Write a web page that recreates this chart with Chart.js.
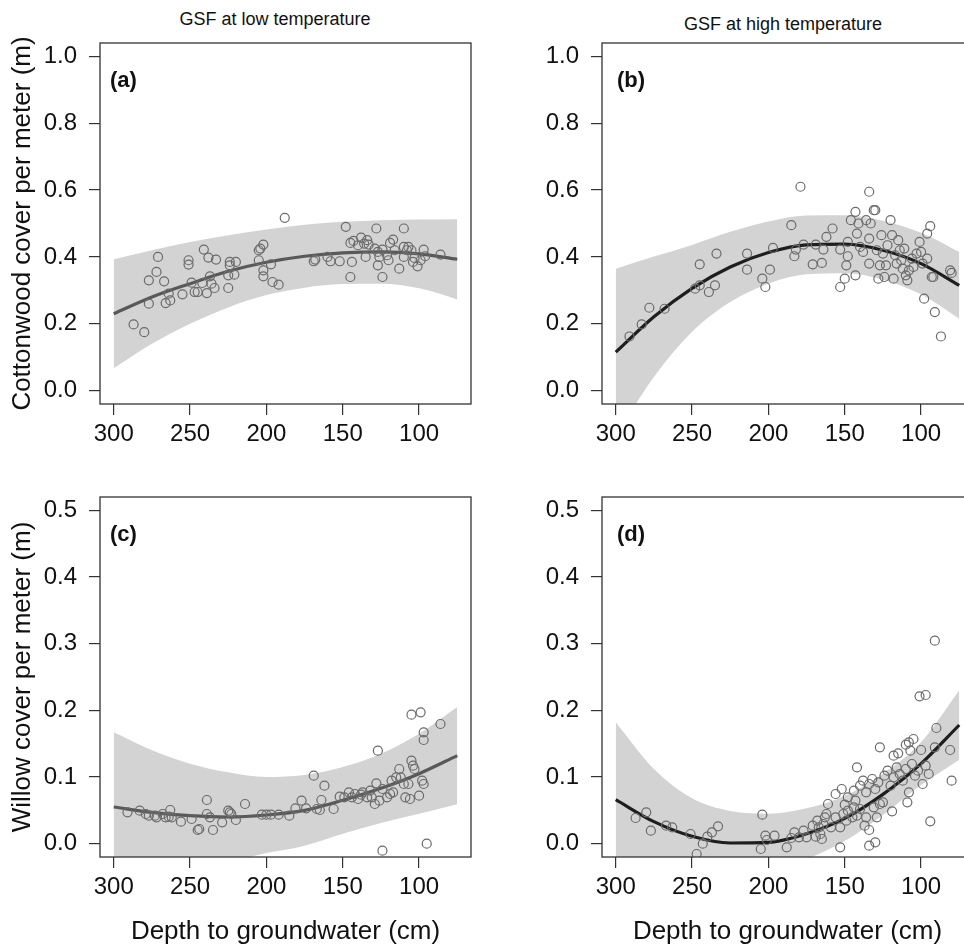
<!DOCTYPE html>
<html>
<head>
<meta charset="utf-8">
<script src="https://cdn.jsdelivr.net/npm/chart.js@4.4.0/dist/chart.umd.min.js"></script>
<style>
  body { margin: 0; background: #fff; }
  #page { position: relative; width: 964px; height: 944px; overflow: hidden; font-family: "Liberation Sans", Arial, sans-serif; }
  canvas { position: absolute; }
  .title { position: absolute; font-size: 18px; color: #111; transform: translate(-50%, -50%); white-space: nowrap; }
</style>
</head>
<body>
<div id="page">
  <div class="title" style="left:275px; top:19px">GSF at low temperature</div>
  <div class="title" style="left:783px; top:24px">GSF at high temperature</div>
  <canvas id="pa" width="480" height="470" style="left:0; top:0"></canvas>
  <canvas id="pb" width="480" height="470" style="left:502px; top:0"></canvas>
  <canvas id="pc" width="480" height="504" style="left:0; top:440px"></canvas>
  <canvas id="pd" width="480" height="504" style="left:502px; top:440px"></canvas>
</div>
<script>
// tick labels
var depthTicks = [300, 250, 200, 150, 100];
var cottonTicks = [0, 0.2, 0.4, 0.6, 0.8, 1.0];
var willowTicks = [0, 0.1, 0.2, 0.3, 0.4, 0.5];

// depths where the fitted curve and its band were read
var fitDepth = [300, 275, 250, 225, 200, 175, 150, 125, 100, 75];

// (a) cottonwood, low temperature
var aDepth = [287, 280, 277, 277, 272, 271, 267, 266, 264, 263, 255, 251, 251, 249, 247, 245, 241, 242, 239, 238,
  237, 236, 234, 233, 225, 225, 224, 224, 220, 221, 205, 204, 202, 205, 202, 202, 197, 196, 192, 188,
  169, 168, 160, 158, 152, 148, 145, 144, 145, 143, 140, 138, 136, 135, 134, 133, 128, 129, 127, 127,
  126, 124, 124, 121, 120, 119, 117, 116, 113, 110, 110, 110, 108, 107, 105, 104, 103, 101, 99, 97, 96, 86];
var aCover = [0.198, 0.175, 0.33, 0.26, 0.355, 0.40, 0.327, 0.262, 0.29, 0.27, 0.288, 0.39, 0.377, 0.323, 0.295, 0.295, 0.422, 0.322, 0.292, 0.398,
  0.342, 0.32, 0.307, 0.392, 0.307, 0.345, 0.385, 0.375, 0.385, 0.347, 0.42, 0.425, 0.437, 0.39, 0.36, 0.342, 0.378, 0.325, 0.317, 0.517,
  0.387, 0.392, 0.40, 0.387, 0.387, 0.49, 0.34, 0.385, 0.442, 0.448, 0.435, 0.458, 0.44, 0.40, 0.45, 0.437, 0.485, 0.425, 0.375, 0.415,
  0.40, 0.34, 0.422, 0.405, 0.39, 0.442, 0.452, 0.42, 0.365, 0.485, 0.43, 0.40, 0.42, 0.43, 0.42, 0.385, 0.397, 0.372, 0.39, 0.422, 0.402, 0.407];
var aFit = [0.23, 0.28, 0.32, 0.357, 0.384, 0.402, 0.412, 0.415, 0.409, 0.393];
var aLow = [0.067, 0.14, 0.20, 0.249, 0.286, 0.308, 0.319, 0.32, 0.306, 0.273];
var aHigh = [0.393, 0.42, 0.445, 0.465, 0.482, 0.496, 0.505, 0.51, 0.512, 0.513];

// (b) cottonwood, high temperature
var bDepth = [291, 283, 278, 268, 248, 245, 245, 239, 235, 234, 214, 214, 204, 202, 199, 197, 185, 183, 182, 179,
  177, 171, 169, 165, 164, 162, 158, 153, 153, 150, 149, 148, 148, 146, 143, 143, 142, 141, 140, 138,
  136, 134, 134, 134, 133, 131, 130, 129, 128, 127, 126, 125, 124, 123, 122, 120, 119, 118, 117, 116,
  115, 114, 113, 112, 111, 110, 109, 108, 106, 105, 103, 101, 100, 99, 98, 96, 96, 94, 93, 92, 91, 87, 81, 80];
var bCover = [0.162, 0.198, 0.248, 0.245, 0.305, 0.315, 0.378, 0.295, 0.315, 0.41, 0.41, 0.362, 0.335, 0.31, 0.362, 0.427, 0.495, 0.402, 0.422, 0.61,
  0.437, 0.378, 0.437, 0.382, 0.422, 0.46, 0.485, 0.422, 0.31, 0.335, 0.375, 0.402, 0.445, 0.51, 0.535, 0.345, 0.47, 0.50, 0.43, 0.415,
  0.51, 0.595, 0.455, 0.38, 0.50, 0.54, 0.54, 0.42, 0.335, 0.375, 0.465, 0.41, 0.34, 0.375, 0.435, 0.51, 0.465, 0.335, 0.405, 0.38,
  0.45, 0.42, 0.39, 0.365, 0.425, 0.345, 0.33, 0.36, 0.395, 0.37, 0.41, 0.445, 0.415, 0.38, 0.275, 0.47, 0.395, 0.492, 0.34, 0.34, 0.235, 0.162, 0.36, 0.352];
var bFit = [0.115, 0.221, 0.306, 0.370, 0.413, 0.436, 0.438, 0.42, 0.38, 0.315];
var bLow = [-0.135, 0.041, 0.176, 0.265, 0.32, 0.348, 0.351, 0.332, 0.288, 0.215];
var bHigh = [0.365, 0.401, 0.436, 0.475, 0.506, 0.524, 0.525, 0.508, 0.472, 0.415];

// (c) willow, low temperature
var cDepth = [291, 283, 279, 277, 273, 272, 268, 266, 264, 263, 262, 256, 249, 245, 244, 239, 239, 237, 235, 229,
  225, 224, 223, 220, 214, 203, 200, 197, 192, 185, 181, 177, 174, 169, 167, 165, 164, 162, 156, 152,
  149, 146, 144, 142, 140, 138, 137, 134, 132, 131, 129, 128, 127, 126, 124, 124, 121, 119, 118, 117,
  115, 113, 112, 110, 109, 107, 106, 105, 105, 104, 103, 100, 99, 98, 97, 97, 97, 95, 86];
var cCover = [0.047, 0.0495, 0.0445, 0.042, 0.042, 0.0395, 0.0445, 0.0395, 0.0405, 0.0505, 0.0395, 0.033, 0.037, 0.0205, 0.022, 0.0655, 0.0445, 0.0395, 0.0205, 0.032,
  0.0495, 0.047, 0.0445, 0.0355, 0.0595, 0.0435, 0.0435, 0.0435, 0.0435, 0.042, 0.053, 0.0645, 0.053, 0.102, 0.052, 0.0505, 0.0655, 0.087, 0.052, 0.0705,
  0.0695, 0.077, 0.0695, 0.0745, 0.067, 0.0735, 0.077, 0.0695, 0.0795, 0.0695, 0.0595, 0.0905, 0.1395, 0.0645, -0.0105, 0.082, 0.0695, 0.0745, 0.0945, 0.077,
  0.0995, 0.112, 0.0995, 0.0895, 0.0695, 0.0895, 0.067, 0.1245, 0.1935, 0.117, 0.112, 0.072, 0.197, 0.0945, 0.0895, 0.167, 0.1555, 0.0, 0.1795];
var cFit = [0.055, 0.047, 0.042, 0.040, 0.043, 0.050, 0.065, 0.083, 0.105, 0.132];
var cLow = [-0.057, -0.046, -0.036, -0.027, -0.014, -0.003, 0.015, 0.031, 0.045, 0.059];
var cHigh = [0.167, 0.14, 0.12, 0.107, 0.10, 0.103, 0.115, 0.135, 0.165, 0.205];

// (d) willow, high temperature
var dDepth = [287, 280, 277, 267, 263, 251, 247, 243, 240, 237, 233, 204, 205, 202, 201, 196, 188, 185, 183, 180,
  177, 175, 171, 169, 168, 167, 166, 165, 164, 163, 162, 161, 159, 156, 156, 153, 153, 152, 151, 150,
  149, 148, 148, 145, 144, 144, 143, 142, 142, 140, 140, 138, 137, 136, 136, 134, 134, 134, 132, 131,
  130, 130, 129, 128, 127, 127, 125, 124, 122, 120, 119, 118, 118, 116, 115, 114, 112, 110, 110, 109,
  108, 108, 107, 106, 105, 104, 102, 101, 100, 99, 97, 97, 95, 94, 91, 91, 90, 81, 80];
var dCover = [0.0385, 0.047, 0.0195, 0.027, 0.0245, 0.0145, -0.0155, 0.0, 0.0105, 0.017, 0.026, 0.0435, -0.008, 0.012, 0.0055, 0.012, -0.0055, 0.0085, 0.017, 0.0095,
  0.0195, 0.0095, 0.027, 0.0105, 0.0345, 0.0245, 0.0145, 0.007, 0.0295, 0.0395, 0.0445, 0.0595, 0.0245, 0.0395, 0.0745, 0.0245, -0.0055, 0.082, 0.0445, 0.0585,
  0.0345, 0.0695, 0.0495, 0.0395, 0.0545, 0.0795, 0.0645, 0.042, 0.1145, 0.052, 0.087, 0.0945, 0.027, 0.0395, 0.077, 0.0205, -0.003, 0.0895, 0.097, 0.0545,
  0.002, 0.082, 0.0395, 0.092, 0.0595, 0.1445, 0.062, 0.102, 0.1095, 0.087, 0.0485, 0.132, 0.0995, 0.1145, 0.1355, 0.1045, 0.0945, 0.1485, 0.112, 0.062,
  0.152, 0.077, 0.1395, 0.1195, 0.157, 0.102, 0.1095, 0.221, 0.1405, 0.0895, 0.223, 0.117, 0.1045, 0.0335, 0.3045, 0.1445, 0.1735, 0.1405, 0.0945];
var dFit = [0.066, 0.033, 0.011, 0.001, 0.002, 0.015, 0.038, 0.074, 0.12, 0.178];
var dLow = [-0.05, -0.046, -0.046, -0.046, -0.041, -0.023, 0.004, 0.043, 0.088, 0.126];
var dHigh = [0.182, 0.112, 0.068, 0.049, 0.045, 0.053, 0.072, 0.105, 0.152, 0.23];

var FONT = '"Liberation Sans", Arial, sans-serif';
Chart.defaults.font.family = FONT;

// box round the plot area and the panel letter
var panelFrame = {
  id: 'panelFrame',
  afterDraw: function (chart, args, opts) {
    var ctx = chart.ctx, a = chart.chartArea;
    ctx.save();
    ctx.strokeStyle = '#333';
    ctx.lineWidth = 1.3;
    ctx.strokeRect(a.left, a.top, a.right - a.left, a.bottom - a.top);
    ctx.font = 'bold 22px ' + FONT;
    ctx.fillStyle = '#111';
    ctx.textBaseline = 'middle';
    ctx.fillText(opts.label, a.left + opts.dx, a.top + 38);
    ctx.restore();
  }
};

function pairs(xs, ys) {
  return xs.map(function (x, i) { return { x: x, y: ys[i] }; });
}

function panel(id, p) {
  var bottom = p.xTitle ? true : false;
  new Chart(document.getElementById(id), {
    type: 'scatter',
    data: {
      datasets: [
        { data: pairs(p.depth, p.cover), order: 0, pointRadius: 4.5, pointBorderWidth: 1.2,
          pointBorderColor: '#6a6a6a', pointBackgroundColor: 'rgba(0,0,0,0)' },
        { type: 'line', data: pairs(fitDepth, p.fit), order: 1, borderColor: p.lineColor, borderWidth: 3.2,
          pointRadius: 0, cubicInterpolationMode: 'monotone', fill: false },
        { type: 'line', data: pairs(fitDepth, p.low), order: 2, borderColor: 'rgba(0,0,0,0)', borderWidth: 0,
          pointRadius: 0, cubicInterpolationMode: 'monotone', fill: false },
        { type: 'line', data: pairs(fitDepth, p.high), order: 3, borderColor: 'rgba(0,0,0,0)', borderWidth: 0,
          pointRadius: 0, cubicInterpolationMode: 'monotone', fill: '-1', backgroundColor: '#d3d3d3' }
      ]
    },
    options: {
      responsive: false,
      animation: false,
      events: [],
      elements: { line: { capBezierPoints: false } },
      layout: { padding: { top: bottom ? 57 : 43, right: 9, left: 0, bottom: 0 } },
      plugins: {
        legend: { display: false },
        tooltip: { enabled: false },
        filler: { drawTime: 'beforeDatasetsDraw' },
        panelFrame: { label: p.label, dx: p.dx }
      },
      scales: {
        x: {
          type: 'linear', reverse: true, min: 66, max: 309,
          afterBuildTicks: function (s) { s.ticks = depthTicks.map(function (v) { return { value: v }; }); },
          afterFit: function (s) { s.height = bottom ? 87 : 66; },
          grid: { drawOnChartArea: false, drawTicks: true, tickLength: 11, color: '#333', lineWidth: 1.2 },
          border: { display: false },
          ticks: { font: { size: 24 }, color: '#111', padding: 5, maxRotation: 0, autoSkip: false },
          title: { display: bottom, text: p.xTitle || '', color: '#111',
                   font: { size: 26, lineHeight: 0.92 }, padding: { top: 0, bottom: 0 } }
        },
        y: {
          min: p.yMin, max: p.yMax,
          afterBuildTicks: function (s) { s.ticks = p.yTicks.map(function (v) { return { value: v }; }); },
          afterFit: function (s) { s.width = 100; },
          grid: { drawOnChartArea: false, drawTicks: true, tickLength: 11, color: '#333', lineWidth: 1.2 },
          border: { display: false },
          ticks: { font: { size: 24 }, color: '#111', padding: 12,
                   callback: function (v) { return Number(v).toFixed(1); } },
          title: { display: !!p.yTitle, text: p.yTitle || '', color: '#111',
                   font: { size: 26 }, padding: { top: 7, bottom: 0 } }
        }
      }
    },
    plugins: [panelFrame]
  });
}

panel('pa', { depth: aDepth, cover: aCover, fit: aFit, low: aLow, high: aHigh, lineColor: '#595959',
  label: '(a)', dx: 10, yMin: -0.04, yMax: 1.04, yTicks: cottonTicks, yTitle: 'Cottonwood cover per meter (m)' });
panel('pb', { depth: bDepth, cover: bCover, fit: bFit, low: bLow, high: bHigh, lineColor: '#1e1e1e',
  label: '(b)', dx: 15, yMin: -0.04, yMax: 1.04, yTicks: cottonTicks });
panel('pc', { depth: cDepth, cover: cCover, fit: cFit, low: cLow, high: cHigh, lineColor: '#595959',
  label: '(c)', dx: 10, yMin: -0.02, yMax: 0.52, yTicks: willowTicks, yTitle: 'Willow cover per meter (m)',
  xTitle: 'Depth to groundwater (cm)' });
panel('pd', { depth: dDepth, cover: dCover, fit: dFit, low: dLow, high: dHigh, lineColor: '#1e1e1e',
  label: '(d)', dx: 15, yMin: -0.02, yMax: 0.52, yTicks: willowTicks,
  xTitle: 'Depth to groundwater (cm)' });
</script>
</body>
</html>
